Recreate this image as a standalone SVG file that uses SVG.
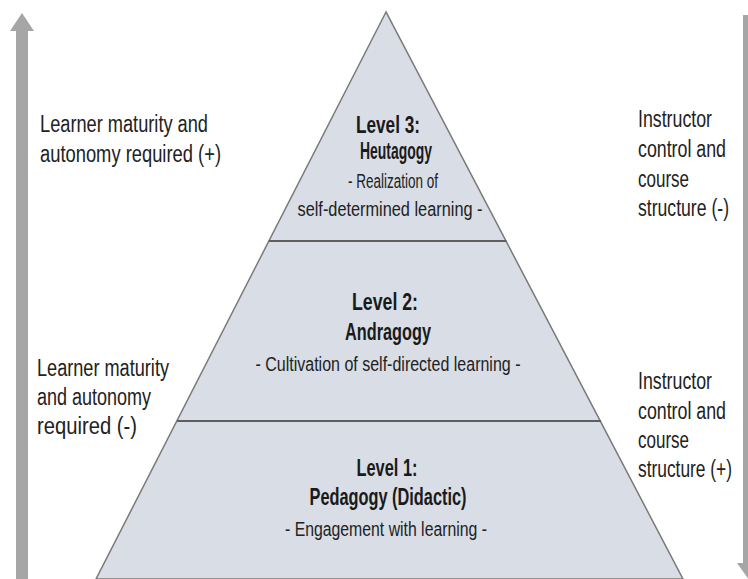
<svg xmlns="http://www.w3.org/2000/svg" width="748" height="579" viewBox="0 0 748 579">
  <style>
    .lvl { fill: #d8dde6; stroke: none; }
    .outline { fill: none; stroke: #7a7a7a; stroke-width: 1.5; stroke-linejoin: miter; }
    .sep { stroke: #5e5e5e; stroke-width: 2; }
    .arrow { fill: #a6a6a6; }
    .side { font-family: "Liberation Sans", Arial, sans-serif; font-size: 18px; fill: #222222; }
    .title { font-family: "Liberation Sans", Arial, sans-serif; font-size: 23px; font-weight: bold; fill: #1a1a1a; text-anchor: middle; }
    .sub { font-family: "Liberation Sans", Arial, sans-serif; font-size: 20px; fill: #222222; text-anchor: middle; }
  </style>
  <rect width="748" height="579" fill="#ffffff"/>

  <g id="connectors">
    <g id="arrow-left">
      <rect class="arrow" x="16" y="30" width="12" height="549"/>
      <polygon class="arrow" points="22,13 10,31 34,31"/>
    </g>
    <g id="arrow-right">
      <rect class="arrow" x="743" y="15" width="12" height="550"/>
      <polygon class="arrow" points="737,563 761,563 749,580"/>
    </g>
  </g>

  <g id="level3">
    <polygon class="lvl" points="386,12 268.8,241 506.4,241"/>
    <text class="title" x="388" y="133" textLength="64" lengthAdjust="spacingAndGlyphs">Level 3:</text>
    <text class="title" x="396" y="159" textLength="72" lengthAdjust="spacingAndGlyphs">Heutagogy</text>
    <text class="sub" x="393" y="188" textLength="90" lengthAdjust="spacingAndGlyphs">- Realization of</text>
    <text class="sub" x="390" y="216" textLength="185" lengthAdjust="spacingAndGlyphs">self-determined learning -</text>
  </g>

  <g id="level2">
    <polygon class="lvl" points="268.8,241 506.4,241 601,421 177,421"/>
    <text class="title" x="385" y="310" textLength="66" lengthAdjust="spacingAndGlyphs">Level 2:</text>
    <text class="title" x="388" y="340" textLength="86" lengthAdjust="spacingAndGlyphs">Andragogy</text>
    <text class="sub" x="388" y="371" textLength="265" lengthAdjust="spacingAndGlyphs">- Cultivation of self-directed learning -</text>
  </g>

  <g id="level1">
    <polygon class="lvl" points="177,421 601,421 683,579 96,579"/>
    <text class="title" x="387" y="476" textLength="61" lengthAdjust="spacingAndGlyphs">Level 1:</text>
    <text class="title" x="388" y="505" textLength="157" lengthAdjust="spacingAndGlyphs">Pedagogy (Didactic)</text>
    <text class="sub" x="386" y="536" textLength="202" lengthAdjust="spacingAndGlyphs">- Engagement with learning -</text>
  </g>

  <g id="pyramid-lines">
    <polygon class="outline" points="386,12 96,579 683,579"/>
    <line class="sep" x1="268.8" y1="241" x2="506.4" y2="241"/>
    <line class="sep" x1="177" y1="421" x2="601" y2="421"/>
  </g>

  <g id="label-learner-top">
    <text class="side" transform="translate(40,132) scale(1,1.28)" textLength="168" lengthAdjust="spacingAndGlyphs">Learner maturity and</text>
    <text class="side" transform="translate(40,162) scale(1,1.28)" textLength="181" lengthAdjust="spacingAndGlyphs">autonomy required (+)</text>
  </g>

  <g id="label-instructor-top">
    <text class="side" transform="translate(638,127) scale(1,1.28)" textLength="74" lengthAdjust="spacingAndGlyphs">Instructor</text>
    <text class="side" transform="translate(638,157) scale(1,1.28)" textLength="88" lengthAdjust="spacingAndGlyphs">control and</text>
    <text class="side" transform="translate(638,187) scale(1,1.28)" textLength="51" lengthAdjust="spacingAndGlyphs">course</text>
    <text class="side" transform="translate(638,216) scale(1,1.28)" textLength="91" lengthAdjust="spacingAndGlyphs">structure (-)</text>
  </g>

  <g id="label-learner-bottom">
    <text class="side" transform="translate(37,376) scale(1,1.28)" textLength="132" lengthAdjust="spacingAndGlyphs">Learner maturity</text>
    <text class="side" transform="translate(37,405) scale(1,1.28)" textLength="114" lengthAdjust="spacingAndGlyphs">and autonomy</text>
    <text class="side" transform="translate(37,434) scale(1,1.28)" textLength="100" lengthAdjust="spacingAndGlyphs">required (-)</text>
  </g>

  <g id="label-instructor-bottom">
    <text class="side" transform="translate(638,389) scale(1,1.28)" textLength="74" lengthAdjust="spacingAndGlyphs">Instructor</text>
    <text class="side" transform="translate(638,419) scale(1,1.28)" textLength="88" lengthAdjust="spacingAndGlyphs">control and</text>
    <text class="side" transform="translate(638,448) scale(1,1.28)" textLength="51" lengthAdjust="spacingAndGlyphs">course</text>
    <text class="side" transform="translate(638,477) scale(1,1.28)" textLength="94" lengthAdjust="spacingAndGlyphs">structure (+)</text>
  </g>
</svg>
